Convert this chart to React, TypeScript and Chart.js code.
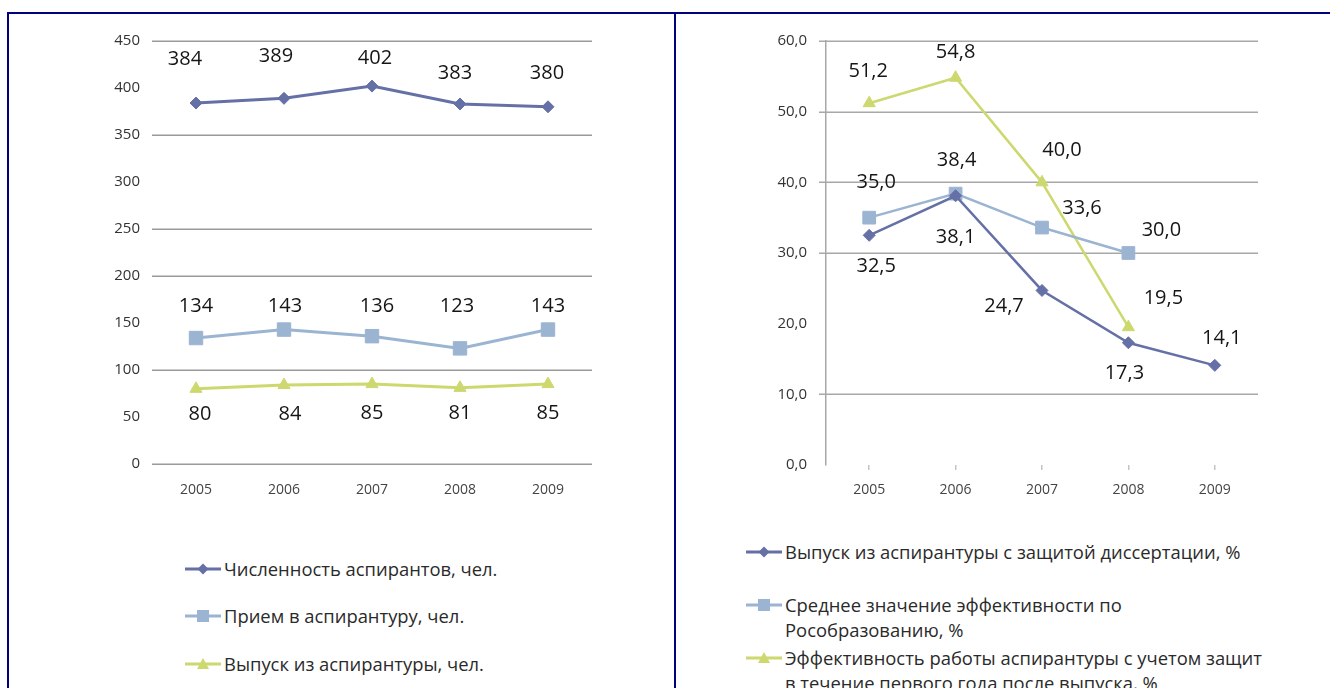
import React, { useEffect, useRef } from "react";
import { Chart, registerables } from "chart.js";

Chart.register(...registerables);

// ---------- data ----------
const years = ["2005", "2006", "2007", "2008", "2009"];

const leftSeriesNames = [
  "Численность аспирантов, чел.",
  "Прием в аспирантуру, чел.",
  "Выпуск из аспирантуры, чел.",
];
const studentsTotal = [384, 389, 402, 383, 380];
const admitted = [134, 143, 136, 123, 143];
const graduated = [80, 84, 85, 81, 85];

const rightSeriesNames = [
  ["Выпуск из аспирантуры с защитой диссертации, %"],
  ["Среднее значение эффективности по", "Рособразованию, %"],
  ["Эффективность работы аспирантуры с учетом защит", "в течение первого года после выпуска, %"],
];
const defendedShare = [32.5, 38.1, 24.7, 17.3, 14.1];
const avgRosobr = [35.0, 38.4, 33.6, 30.0, null];
const efficiency = [51.2, 54.8, 40.0, 19.5, null];

// gridlines that are visible in the source image
const leftGridValues = [450, 350, 250, 200, 100, 0];
const rightGridValues = [60, 50, 40, 30, 10];

// ---------- style ----------
const C1 = "#6570A6";
const C2 = "#9BB4D2";
const C3 = "#CDD86F";
const FONT = "'Open Sans', 'DejaVu Sans', sans-serif";
const NONE = "rgba(0,0,0,0)";

// label offsets (relative to each point), style only
const offTotal = [[-11, -44], [-8, -42], [3, -28], [-5, -31], [-1, -34]];
const offAdmitted = [[0, -32], [1, -23], [5, -30], [-3, -42], [0, -23]];
const offGraduated = [[4, 25], [6, 29], [0, 29], [0, 25], [0, 29]];

const offDefended = [[7, 31], [0, 42], [-38, 16], [-4, 31], [7, -27]];
const offAvg = [[7, -35], [1, -33], [40, -19], [33, -23], [0, 0]];
const offEff = [[-1, -32], [0, -25], [20, -32], [35, -29], [0, 0]];

function makeGridPlugin(values: number[], color: string, tickLen: number) {
  return {
    id: "selectiveGrid",
    beforeDatasetsDraw(chart: any) {
      const { ctx, chartArea } = chart;
      const y = chart.scales.y;
      ctx.save();
      ctx.strokeStyle = color;
      ctx.lineWidth = 1.5;
      values.forEach((v) => {
        const py = Math.round(y.getPixelForValue(v)) + 0.25;
        ctx.beginPath();
        ctx.moveTo(chartArea.left - tickLen, py);
        ctx.lineTo(chartArea.right, py);
        ctx.stroke();
      });
      ctx.restore();
    },
  };
}

function makeLabelPlugin(format: (v: number) => string) {
  return {
    id: "valueLabels",
    afterDatasetsDraw(chart: any) {
      const ctx = chart.ctx;
      ctx.save();
      ctx.font = `20px ${FONT}`;
      ctx.fillStyle = "#151515";
      ctx.textAlign = "center";
      ctx.textBaseline = "middle";
      chart.data.datasets.forEach((ds: any, di: number) => {
        const meta = chart.getDatasetMeta(di);
        meta.data.forEach((el: any, i: number) => {
          const v = ds.data[i];
          if (v === null || v === undefined) return;
          const o = ds.labelOffsets[i];
          ctx.fillText(format(v), el.x + o[0], el.y + o[1]);
        });
      });
      ctx.restore();
    },
  };
}

function lineDs(label: string, data: any[], color: string, shape: string, radius: number, offs: number[][], width = 3) {
  return {
    label,
    data,
    borderColor: color,
    backgroundColor: color,
    borderWidth: width,
    pointStyle: shape,
    pointRadius: radius,
    pointHoverRadius: radius,
    pointBackgroundColor: color,
    pointBorderColor: color,
    pointBorderWidth: 1,
    tension: 0,
    labelOffsets: offs,
  } as any;
}

function LeftChart() {
  const ref = useRef<HTMLCanvasElement>(null);
  useEffect(() => {
    const chart = new Chart(ref.current!, {
      type: "line",
      data: {
        labels: years,
        datasets: [
          lineDs(leftSeriesNames[0], studentsTotal, C1, "rectRot", 6, offTotal),
          lineDs(leftSeriesNames[1], admitted, C2, "rect", 9.5, offAdmitted),
          lineDs(leftSeriesNames[2], graduated, C3, "triangle", 7, offGraduated),
        ],
      },
      options: {
        animation: false,
        responsive: false,
        events: [],
        layout: { padding: { top: 20, right: 13, bottom: 16, left: 0 } },
        plugins: { legend: { display: false }, tooltip: { enabled: false } },
        scales: {
          x: {
            offset: true,
            grid: { display: false, drawTicks: false },
            border: { display: false },
            ticks: { font: { family: FONT, size: 14 }, color: "#444", padding: 18 },
            afterFit: (s: any) => { s.height = 40; },
          },
          y: {
            min: 0,
            max: 450,
            ticks: { stepSize: 50, font: { family: FONT, size: 15 }, color: "#333", padding: 12 },
            grid: { display: false, drawTicks: false },
            border: { display: false },
            afterFit: (s: any) => { s.width = 57; },
          },
        },
      } as any,
      plugins: [makeGridPlugin(leftGridValues, "#9a9a9a", 0), makeLabelPlugin((v) => String(v))],
    });
    return () => chart.destroy();
  }, []);
  return <canvas ref={ref} width={510} height={500} style={{ position: "absolute", left: 95, top: 20, width: 510, height: 500 }} />;
}

function RightChart() {
  const ref = useRef<HTMLCanvasElement>(null);
  useEffect(() => {
    const fmt = (v: number) => v.toFixed(1).replace(".", ",");
    const chart = new Chart(ref.current!, {
      type: "line",
      data: {
        labels: years,
        datasets: [
          lineDs(rightSeriesNames[0][0], defendedShare, C1, "rectRot", 6, offDefended, 2.5),
          lineDs(rightSeriesNames[1].join(" "), avgRosobr, C2, "rect", 9, offAvg, 2.5),
          lineDs(rightSeriesNames[2].join(" "), efficiency, C3, "triangle", 7, offEff, 2.5),
        ],
      },
      options: {
        animation: false,
        responsive: false,
        events: [],
        layout: { padding: { top: 20, right: 32, bottom: 15, left: 0 } },
        plugins: { legend: { display: false }, tooltip: { enabled: false } },
        scales: {
          x: {
            offset: true,
            grid: { display: true, drawOnChartArea: false, drawTicks: true, tickLength: 5, color: "#c4c4c4", lineWidth: 1.5 },
            border: { display: false },
            ticks: { font: { family: FONT, size: 14 }, color: "#444", padding: 12 },
            afterFit: (s: any) => { s.height = 40; },
          },
          y: {
            min: 0,
            max: 60,
            ticks: { stepSize: 10, font: { family: FONT, size: 15 }, color: "#333", padding: 12, callback: (v: any) => fmt(Number(v)) },
            grid: { drawTicks: true, tickLength: 7, lineWidth: 1.5, color: NONE },
            border: { display: true, color: "#a8a8a8", width: 1.5 },
            afterFit: (s: any) => { s.width = 136; },
          },
        },
      } as any,
      plugins: [makeGridPlugin(rightGridValues, "#a8a8a8", 7), makeLabelPlugin(fmt)],
    });
    return () => chart.destroy();
  }, []);
  return <canvas ref={ref} width={600} height={500} style={{ position: "absolute", left: 690, top: 20, width: 600, height: 500 }} />;
}

function Marker({ color, shape }: { color: string; shape: string }) {
  let m: any = null;
  if (shape === "diamond") m = <polygon points="18,1.5 23.5,7 18,12.5 12.5,7" fill={color} />;
  if (shape === "square") m = <rect x={12} y={1} width={12} height={12} fill={color} />;
  if (shape === "triangle") m = <polygon points="18,1 24,12 12,12" fill={color} />;
  return (
    <svg width={36} height={14} style={{ display: "block", flex: "0 0 auto" }}>
      <line x1={0} y1={7} x2={36} y2={7} stroke={color} strokeWidth={3} />
      {m}
    </svg>
  );
}

function LegendItem({ left, top, color, shape, lines }: { left: number; top: number; color: string; shape: string; lines: string[] }) {
  return (
    <div style={{ position: "absolute", left, top, fontFamily: FONT, fontSize: 18.4, color: "#2a2a2a", lineHeight: "25px" }}>
      <div style={{ display: "flex", alignItems: "center", height: 25 }}>
        <Marker color={color} shape={shape} />
        <span style={{ marginLeft: 3, whiteSpace: "nowrap" }}>{lines[0]}</span>
      </div>
      {lines.slice(1).map((l, i) => (
        <div key={i} style={{ marginLeft: 39, whiteSpace: "nowrap", height: 25 }}>{l}</div>
      ))}
    </div>
  );
}

export default function App() {
  return (
    <div style={{ position: "fixed", left: 0, top: 0, width: 1330, height: 688, overflow: "hidden", background: "#fff" }}>
      {/* frame */}
      <div style={{ position: "absolute", left: 7, top: 12, width: 1323, height: 2, background: "#000080" }} />
      <div style={{ position: "absolute", left: 7, top: 12, width: 2, height: 676, background: "#000080" }} />
      <div style={{ position: "absolute", left: 674, top: 12, width: 2, height: 676, background: "#000080" }} />

      <LeftChart />
      <RightChart />

      <LegendItem left={185} top={556} color={C1} shape="diamond" lines={[leftSeriesNames[0]]} />
      <LegendItem left={185} top={603} color={C2} shape="square" lines={[leftSeriesNames[1]]} />
      <LegendItem left={185} top={651} color={C3} shape="triangle" lines={[leftSeriesNames[2]]} />

      <LegendItem left={746} top={539} color={C1} shape="diamond" lines={rightSeriesNames[0]} />
      <LegendItem left={746} top={592} color={C2} shape="square" lines={rightSeriesNames[1]} />
      <LegendItem left={746} top={645} color={C3} shape="triangle" lines={rightSeriesNames[2]} />
    </div>
  );
}
